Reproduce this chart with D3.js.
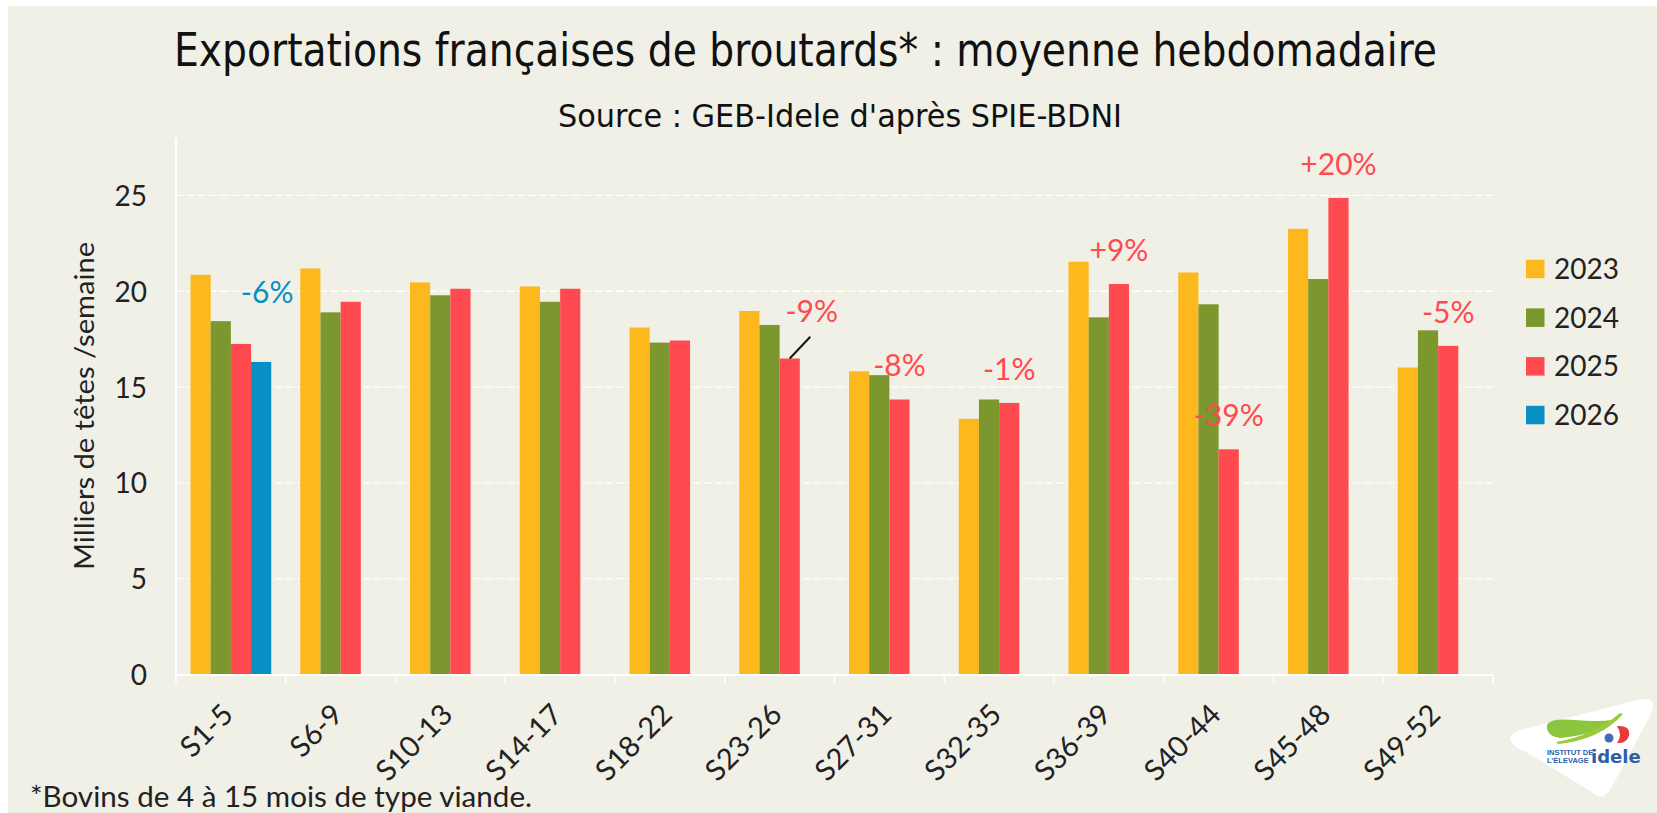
<!DOCTYPE html>
<html>
<head>
<meta charset="utf-8">
<script src="https://cdn.jsdelivr.net/npm/d3@7"></script>
<style>
  body { margin: 0; background: #fff; }
  svg { display: block; }
  .tick-label { font-family: Lato, "Noto Sans", sans-serif; fill: #222; }
  .title { font-family: "Liberation Sans Narrow", "DejaVu Sans Condensed", sans-serif; fill: #111; }
</style>
</head>
<body>
<svg class="chart"></svg>
<script>
const categories = ['S1-5', 'S6-9', 'S10-13', 'S14-17', 'S18-22', 'S23-26',
  'S27-31', 'S32-35', 'S36-39', 'S40-44', 'S45-48', 'S49-52'];
const years = ['2023', '2024', '2025', '2026'];
const values2023 = [20.86, 21.19, 20.46, 20.25, 18.11, 18.97, 15.82, 13.34, 21.54, 20.98, 23.26, 16.02];
const values2024 = [18.44, 18.9, 19.79, 19.45, 17.32, 18.24, 15.62, 14.35, 18.64, 19.32, 20.64, 17.96];
const values2025 = [17.25, 19.45, 20.13, 20.13, 17.43, 16.49, 14.35, 14.17, 20.38, 11.75, 24.87, 17.15];
const values2026 = [16.31, null, null, null, null, null, null, null, null, null, null, null];
const yTicks = [0, 5, 10, 15, 20, 25];
// évolution annoncée : [catégorie, série, texte]
const changeLabels = [
  ['S1-5', '2026', '-6%'],
  ['S23-26', '2025', '-9%'],
  ['S27-31', '2025', '-8%'],
  ['S32-35', '2025', '-1%'],
  ['S36-39', '2025', '+9%'],
  ['S40-44', '2025', '-39%'],
  ['S45-48', '2025', '+20%'],
  ['S49-52', '2025', '-5%'],
];

const colors = { 2023: '#fdb81d', 2024: '#7b972d', 2025: '#ff4a4f', 2026: '#0890c4' };

const startApp = () => {
  const W = 1657;
  const H = 813;
  const plot = { left: 176, right: 1493, top: 138, bottom: 674.4 };

  const svg = d3.select('.chart')
    .attr('width', W)
    .attr('height', H);

  svg.append('rect')
    .attr('x', 8).attr('y', 6)
    .attr('width', W - 8).attr('height', H - 6)
    .attr('fill', '#f0f0e7');

  const series = {
    2023: values2023, 2024: values2024, 2025: values2025, 2026: values2026,
  };
  const rows = categories.map((cat, i) => ({
    cat,
    vals: years.map(year => ({ year, value: series[year][i] })),
  }));

  const xScale = d3.scaleBand().domain(categories).range([plot.left, plot.right]);
  const xInner = d3.scaleBand().domain(years)
    .range([0, xScale.bandwidth()])
    .paddingOuter(0.718);
  const yScale = d3.scaleLinear().domain([0, 28]).range([plot.bottom, plot.top]);

  // grille
  svg.append('g')
    .selectAll('line')
    .data(yTicks.filter(t => t > 0))
    .enter()
    .append('line')
    .attr('x1', plot.left)
    .attr('x2', plot.right)
    .attr('y1', d => yScale(d))
    .attr('y2', d => yScale(d))
    .attr('stroke', '#fff')
    .attr('stroke-width', 1.3)
    .attr('stroke-dasharray', '8,3');

  // axe vertical
  svg.append('line')
    .attr('x1', plot.left).attr('x2', plot.left)
    .attr('y1', plot.top).attr('y2', plot.bottom)
    .attr('stroke', '#fff')
    .attr('stroke-width', 2);

  const yAxis = d3.axisLeft(yScale).tickValues(yTicks).tickSize(0).tickPadding(29);
  const yG = svg.append('g')
    .attr('transform', `translate(${plot.left}, 0)`)
    .call(yAxis);
  yG.select('.domain').remove();
  yG.selectAll('text')
    .attr('class', 'tick-label')
    .style('font-size', '28px')
    .attr('dy', '0.36em');

  // barres
  svg.append('g')
    .selectAll('g')
    .data(rows)
    .enter()
    .append('g')
    .attr('transform', d => `translate(${xScale(d.cat)}, 0)`)
    .selectAll('rect')
    .data(d => d.vals.filter(v => v.value !== null))
    .enter()
    .append('rect')
    .attr('x', d => xInner(d.year))
    .attr('width', xInner.bandwidth())
    .attr('y', d => yScale(d.value))
    .attr('height', d => yScale(0) - yScale(d.value))
    .attr('fill', d => colors[d.year]);

  // axe horizontal
  const xAxis = d3.axisBottom(xScale).tickSize(0).tickPadding(0);
  const xG = svg.append('g')
    .attr('transform', `translate(0, ${plot.bottom})`)
    .call(xAxis);
  xG.select('.domain')
    .attr('stroke', '#fff')
    .attr('stroke-width', 2);
  xG.selectAll('.tick text')
    .attr('class', 'tick-label')
    .style('font-size', '29px')
    .attr('text-anchor', 'end')
    .attr('y', 0)
    .attr('dy', 0)
    .attr('transform', `translate(4, 42) rotate(-45)`);

  const boundaries = categories.map(c => xScale(c)).concat([plot.right]);
  svg.append('g')
    .selectAll('line')
    .data(boundaries)
    .enter()
    .append('line')
    .attr('x1', d => d).attr('x2', d => d)
    .attr('y1', plot.bottom).attr('y2', plot.bottom + 9)
    .attr('stroke', '#fff')
    .attr('stroke-width', 1.5);

  // étiquettes d'évolution
  const valueOf = (cat, year) => series[year][categories.indexOf(cat)];
  const barCenter = (cat, year) => xScale(cat) + xInner(year) + xInner.bandwidth() / 2;
  const nudges = { '-6%': [6, -59], '-9%': [22, -36] };

  changeLabels.forEach(([cat, year, label]) => {
    const [dx, dy] = nudges[label] || [0, -23];
    const bx = barCenter(cat, year);
    const by = yScale(valueOf(cat, year));
    svg.append('text')
      .attr('class', 'tick-label')
      .attr('x', bx + dx)
      .attr('y', by + dy)
      .attr('text-anchor', 'middle')
      .style('font-size', '30px')
      .style('fill', colors[year])
      .text(label);
    if (label === '-9%') {
      svg.append('line')
        .attr('x1', bx).attr('y1', by)
        .attr('x2', bx + 20.6).attr('y2', by - 21.7)
        .attr('stroke', '#111')
        .attr('stroke-width', 2);
    }
  });

  // légende
  const legend = svg.append('g')
    .selectAll('g')
    .data(years)
    .enter()
    .append('g')
    .attr('transform', (d, i) => `translate(1526, ${269 + i * 48.7})`);
  legend.append('rect')
    .attr('x', 0).attr('y', -9.3)
    .attr('width', 18.5).attr('height', 18.5)
    .attr('fill', d => colors[d]);
  legend.append('text')
    .attr('class', 'tick-label')
    .attr('x', 28).attr('y', 10)
    .style('font-size', '28px')
    .text(d => d);

  // titres
  svg.append('text')
    .attr('class', 'title')
    .attr('x', 805.5).attr('y', 66)
    .attr('text-anchor', 'middle')
    .attr('textLength', 1263)
    .attr('lengthAdjust', 'spacingAndGlyphs')
    .style('font-size', '46px')
    .text('Exportations françaises de broutards* : moyenne hebdomadaire');

  svg.append('text')
    .attr('class', 'title')
    .attr('x', 840).attr('y', 127)
    .attr('text-anchor', 'middle')
    .attr('textLength', 564)
    .attr('lengthAdjust', 'spacingAndGlyphs')
    .style('font-size', '32px')
    .text('Source : GEB-Idele d\'après SPIE-BDNI');

  svg.append('text')
    .attr('class', 'tick-label')
    .attr('transform', 'translate(93.5, 406) rotate(-90)')
    .attr('text-anchor', 'middle')
    .attr('textLength', 328)
    .attr('lengthAdjust', 'spacingAndGlyphs')
    .style('font-size', '27px')
    .text('Milliers de têtes /semaine');

  svg.append('text')
    .attr('class', 'tick-label')
    .attr('x', 30).attr('y', 807)
    .attr('textLength', 502)
    .attr('lengthAdjust', 'spacingAndGlyphs')
    .style('font-size', '28px')
    .text('*Bovins de 4 à 15 mois de type viande.');

  // logo
  const logo = svg.append('g');
  logo.append('path')
    .attr('d', 'M1513,744 Q1505,736 1520,730 L1638,700 Q1660,695 1650,716 L1610,790 Q1602,802 1592,792 L1526,752 Q1516,748 1513,744 Z')
    .attr('fill', '#fff');
  logo.append('path')
    .attr('d', 'M1547,725 Q1550,718 1575,720 Q1598,722 1612,720 Q1596,735 1560,738 Q1546,736 1547,725 Z')
    .attr('fill', '#8cc63f');
  logo.append('path')
    .attr('d', 'M1556,742 Q1595,735 1620,713 L1623,714 Q1600,740 1558,744 Z')
    .attr('fill', '#9bcb3b');
  logo.append('path')
    .attr('d', 'M1617,726 Q1631,725 1629,736 Q1626,744 1617,743 Q1623,735 1617,726 Z')
    .attr('fill', '#e73b3b');
  logo.append('circle')
    .attr('cx', 1609).attr('cy', 738).attr('r', 4.5)
    .attr('fill', '#3d6fb6');
  logo.append('text')
    .attr('x', 1547).attr('y', 755)
    .style('font-family', '"Liberation Sans Narrow", sans-serif')
    .style('font-size', '7.5px')
    .style('font-weight', 'bold')
    .style('fill', '#2d5ea8')
    .text('INSTITUT DE');
  logo.append('text')
    .attr('x', 1547).attr('y', 763)
    .style('font-family', '"Liberation Sans Narrow", sans-serif')
    .style('font-size', '7.5px')
    .style('font-weight', 'bold')
    .style('fill', '#2d5ea8')
    .text('L\'ÉLEVAGE');
  logo.append('text')
    .attr('x', 1591).attr('y', 763)
    .style('font-family', '"DejaVu Sans", sans-serif')
    .style('font-size', '18px')
    .style('font-weight', 'bold')
    .style('fill', '#2d5ea8')
    .text('idele');
};

window.onload = startApp;
</script>
</body>
</html>
